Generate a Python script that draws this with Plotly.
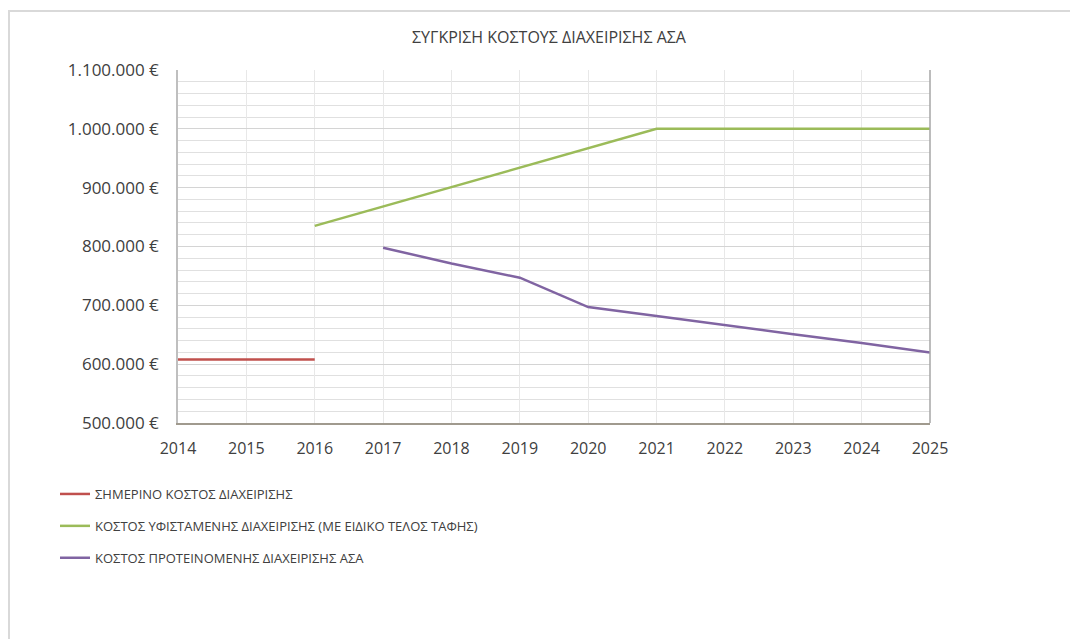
import plotly.graph_objects as go

# ---- data ----
years_current = [2014, 2015, 2016]
cost_current = [608000, 608000, 608000]

years_existing = [2016, 2017, 2018, 2019, 2020, 2021, 2022, 2023, 2024, 2025]
cost_existing = [835000, 868000, 901000, 934000, 967000, 1000000, 1000000, 1000000, 1000000, 1000000]

years_proposed = [2017, 2018, 2019, 2020, 2021, 2022, 2023, 2024, 2025]
cost_proposed = [798000, 771000, 747000, 697000, 682000, 666000, 651000, 636000, 620000]

series_names = [
    "ΣΗΜΕΡΙΝΟ ΚΟΣΤΟΣ ΔΙΑΧΕΙΡΙΣΗΣ",
    "ΚΟΣΤΟΣ ΥΦΙΣΤΑΜΕΝΗΣ ΔΙΑΧΕΙΡΙΣΗΣ (ΜΕ ΕΙΔΙΚΟ ΤΕΛΟΣ ΤΑΦΗΣ)",
    "ΚΟΣΤΟΣ ΠΡΟΤΕΙΝΟΜΕΝΗΣ ΔΙΑΧΕΙΡΙΣΗΣ ΑΣΑ",
]
title_text = "ΣΥΓΚΡΙΣΗ ΚΟΣΤΟΥΣ ΔΙΑΧΕΙΡΙΣΗΣ ΑΣΑ"

y_tick_vals = [500000, 600000, 700000, 800000, 900000, 1000000, 1100000]
y_tick_text = ["500.000 €", "600.000 €", "700.000 €", "800.000 €", "900.000 €", "1.000.000 €", "1.100.000 €"]
x_tick_vals = list(range(2014, 2026))

colors = ["#C0504D", "#9BBB59", "#8064A2"]
FONT = "Open Sans"

fig = go.Figure()
for i, (xs, ys) in enumerate([(years_current, cost_current),
                              (years_existing, cost_existing),
                              (years_proposed, cost_proposed)]):
    fig.add_trace(go.Scatter(
        x=xs, y=ys, mode="lines", name=series_names[i],
        line=dict(color=colors[i], width=2.5),
        legendgroup=f"g{i}",
    ))

# page has an 8px body margin; geometry below is in figure pixels
OFF = 8
W, H = 1078, 639
L, R, T, B = 178 - OFF, 930 - OFF, 70 - OFF, 423 - OFF
pw, ph = R - L, B - T

fig.update_layout(
    width=W, height=H,
    margin=dict(l=L, r=W - R, t=T, b=H - B),
    paper_bgcolor="white", plot_bgcolor="white",
    font=dict(family=FONT, color="#404040"),
    title=dict(text=title_text, x=(549 - OFF - L) / pw, xref="paper", xanchor="center",
               y=1 - (37 - OFF) / H, yanchor="middle",
               font=dict(size=16, color="#404040", family=FONT)),
    showlegend=True,
    legend=dict(
        x=(55 - OFF - L) / pw, y=(B - (479 - OFF)) / ph, xanchor="left", yanchor="top",
        orientation="v", font=dict(size=13, color="#404040", family=FONT),
        tracegroupgap=12, bgcolor="rgba(0,0,0,0)",
        itemwidth=30,
    ),
    shapes=[
        # outer chart border
        dict(type="rect", xref="paper", yref="paper",
             x0=(1 - L) / pw, x1=1.5, y0=-1.5, y1=1 + (T - 3) / ph,
             line=dict(color="#d9d9d9", width=2), fillcolor="rgba(0,0,0,0)", layer="below"),
        # right plot edge
        dict(type="line", xref="paper", yref="paper", x0=1, x1=1, y0=0, y1=1,
             line=dict(color="#a6a6a6", width=1.5)),
    ],
)

fig.update_xaxes(
    range=[2014, 2025], tickmode="array", tickvals=x_tick_vals,
    tickfont=dict(size=16, color="#404040", family=FONT),
    showgrid=True, gridcolor="#e8e8e8", gridwidth=1,
    showline=True, linecolor="#a09a8e", linewidth=1.5,
    zeroline=False, ticks="", ticklabelstandoff=10,
)
fig.update_yaxes(
    range=[500000, 1100000], tickmode="array", tickvals=y_tick_vals, ticktext=y_tick_text,
    tickfont=dict(size=17, color="#404040", family=FONT),
    showgrid=True, gridcolor="#d4d4d4", gridwidth=1,
    minor=dict(dtick=20000, showgrid=True, gridcolor="#e0e0e0", gridwidth=1),
    showline=True, linecolor="#bfbfbf", linewidth=1.5,
    zeroline=False, ticks="", ticklabelstandoff=14,
)

fig.write_html("out.html")
